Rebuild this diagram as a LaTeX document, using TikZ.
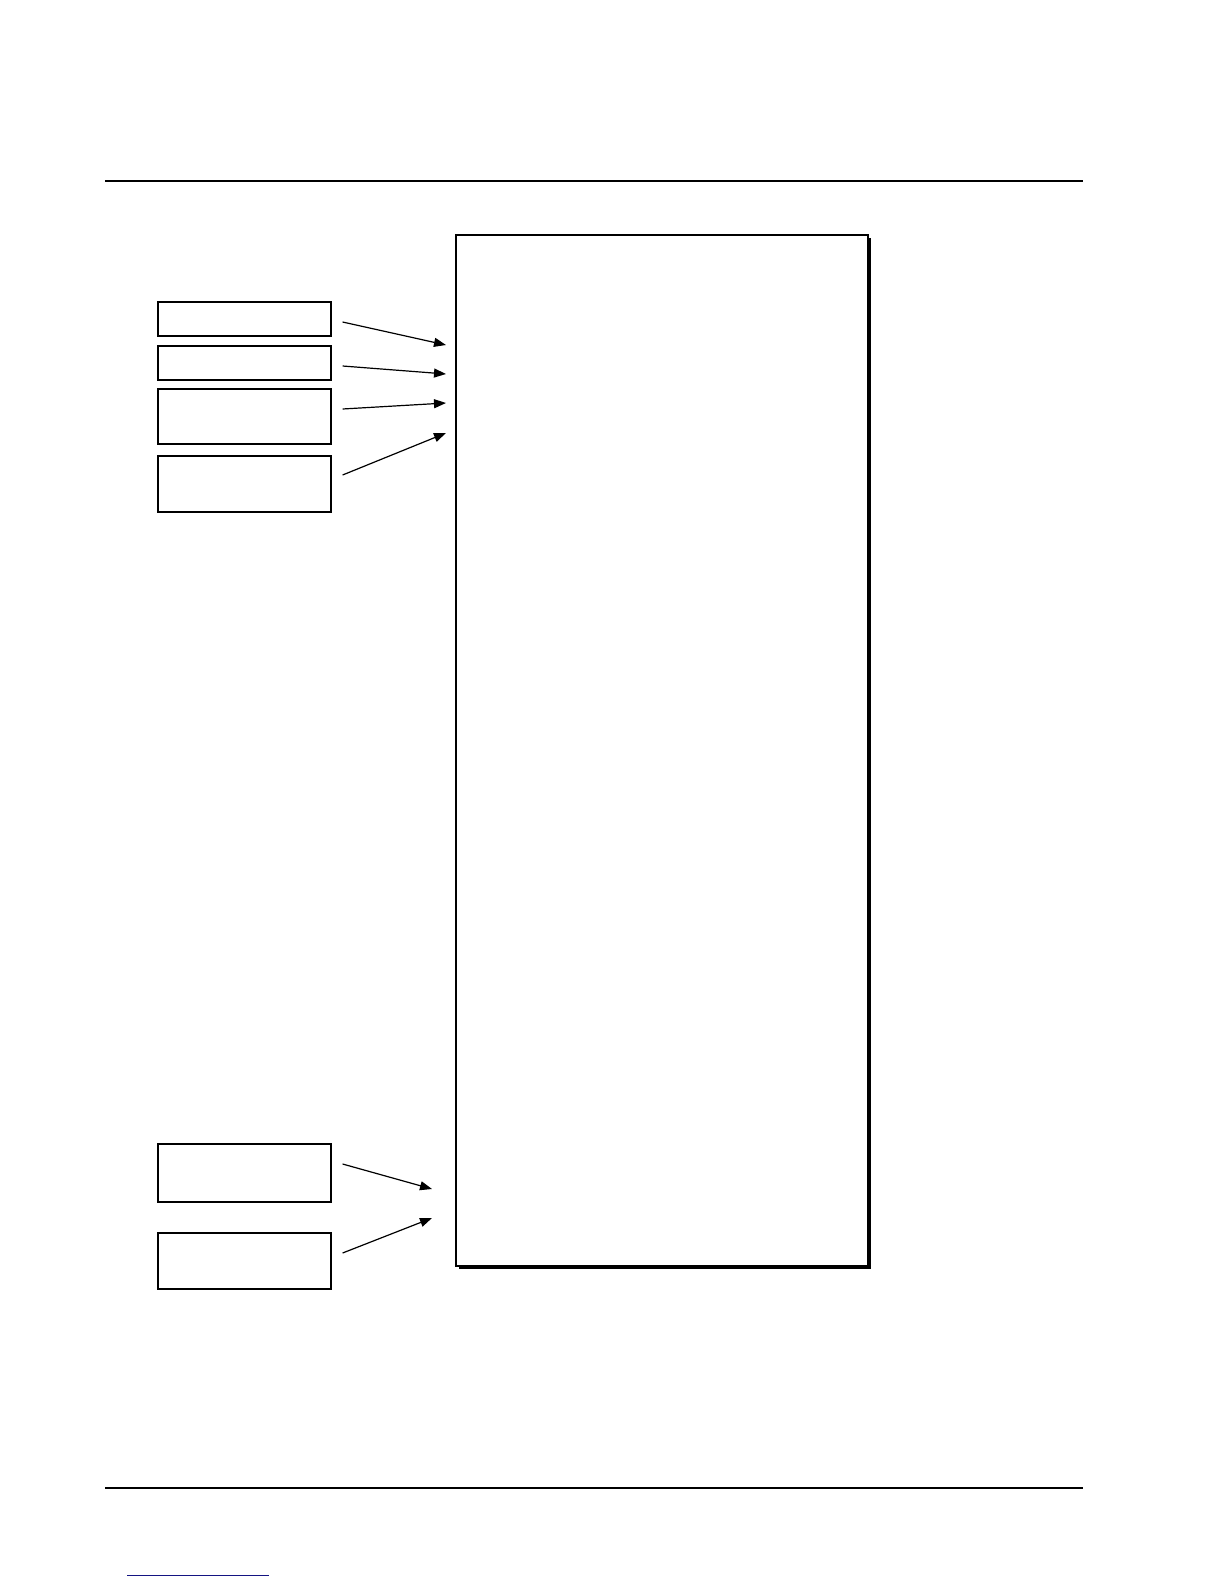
\documentclass[tikz,border=0pt]{standalone}
\usepackage{xcolor}
\usetikzlibrary{arrows.meta,shadows}

\definecolor{linkblue}{RGB}{20,20,130}

\tikzset{
    inbox/.style={draw, line width=0.6pt, minimum width=86.5pt, inner sep=0pt},
    sysbox/.style={draw, fill=white, line width=0.6pt, inner sep=0pt,
        drop shadow={shadow xshift=1.5pt, shadow yshift=-1.5pt, fill=black, opacity=1}},
    rule/.style={line width=0.9pt}
}

\begin{document}
\begin{tikzpicture}[x=0.5pt, y=-0.5pt, >={Triangle[length=6pt,width=4.5pt]}, line width=0.6pt]
    \useasboundingbox (0,0) rectangle (1224,1584);
    \draw[rule] (105,181) -- (1083,181);
    \draw[rule] (105,1488) -- (1083,1488);
    \draw[linkblue, line width=0.5pt] (127,1575) -- (269,1575);

    \node[sysbox, minimum width=206pt, minimum height=515.5pt] (sys) at (662,750.5) {};

    \node[inbox, minimum height=17pt] (b1) at (244.5,319) {};
    \node[inbox, minimum height=17pt] (b2) at (244.5,363) {};
    \node[inbox, minimum height=27.5pt] (b3) at (244.5,416.5) {};
    \node[inbox, minimum height=28pt] (b4) at (244.5,484) {};
    \node[inbox, minimum height=29pt] (b5) at (244.5,1173) {};
    \node[inbox, minimum height=28pt] (b6) at (244.5,1261) {};

    \coordinate (in1) at (446,345);
    \coordinate (in2) at (446,374);
    \coordinate (in3) at (446,403);
    \coordinate (in4) at (446,433);
    \coordinate (in5) at (432,1189);
    \coordinate (in6) at (432,1218);

    \draw[->] ([shift={(11,3)}]b1.east) -- (in1);
    \draw[->] ([shift={(11,3)}]b2.east) -- (in2);
    \draw[->] ([shift={(11,-7.5)}]b3.east) -- (in3);
    \draw[->] ([shift={(11,-9)}]b4.east) -- (in4);
    \draw[->] ([shift={(11,-9)}]b5.east) -- (in5);
    \draw[->] ([shift={(11,-8)}]b6.east) -- (in6);
\end{tikzpicture}
\end{document}
